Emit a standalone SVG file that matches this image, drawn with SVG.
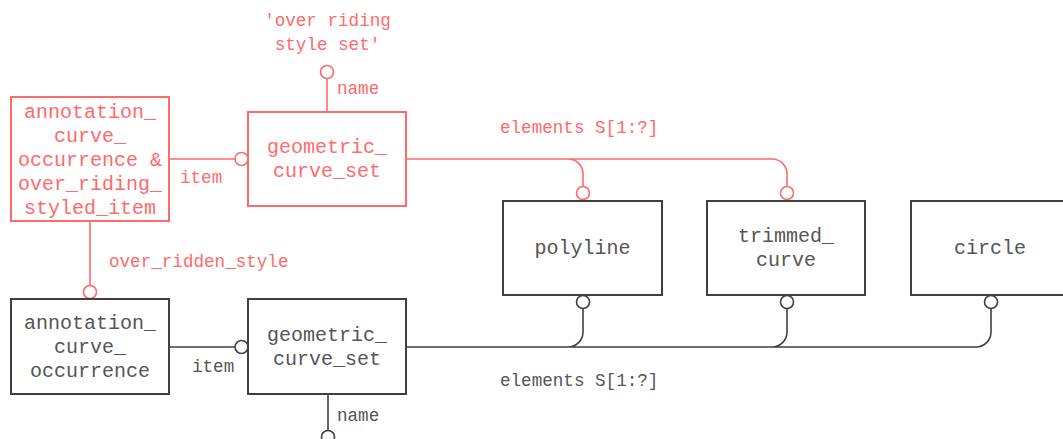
<svg xmlns="http://www.w3.org/2000/svg" width="1063" height="439" viewBox="0 0 1063 439">
<style>
.box{fill:#fff;stroke-width:2}
.k{stroke:#404040}
.r{stroke:#ff6a6a}
.ln{fill:none;stroke-width:1.6}
.c{fill:#fff;stroke-width:1.6}
text{font-family:"Liberation Mono","Courier New",monospace}
.nt{font-size:20px;text-anchor:middle}
.lb{font-size:17.6px}
.tk{fill:#555}
.tr{fill:#ff6a6a}
</style>
<rect width="1063" height="439" fill="#fff"/>
<g id="connectors">
  <path class="ln r" d="M327 112 V78.5"/>
  <circle class="c r" cx="327" cy="72" r="6.5"/>
  <path class="ln r" d="M169 159 H235"/>
  <circle class="c r" cx="241.5" cy="159" r="6.5"/>
  <path class="ln r" d="M406 159 H568 A15 15 0 0 1 583 174 V186.5 M568 159 H772 A15 15 0 0 1 787 174 V186.5"/>
  <circle class="c r" cx="583" cy="193" r="6.5"/>
  <circle class="c r" cx="787" cy="193" r="6.5"/>
  <path class="ln r" d="M90 221 V285.5"/>
  <circle class="c r" cx="90" cy="292" r="6.5"/>
  <path class="ln k" d="M169 347 H235"/>
  <circle class="c k" cx="241.5" cy="347" r="6.5"/>
  <path class="ln k" d="M328 394 V430.5"/>
  <circle class="c k" cx="328" cy="437" r="6.5"/>
  <path class="ln k" d="M406 347 H976 A15 15 0 0 0 991 332 V308.5 M568 347 A15 15 0 0 0 583 332 V308.5 M772 347 A15 15 0 0 0 787 332 V308.5"/>
  <circle class="c k" cx="583" cy="302" r="6.5"/>
  <circle class="c k" cx="787" cy="302" r="6.5"/>
  <circle class="c k" cx="991" cy="302" r="6.5"/>
  <text class="lb tr" x="327.5" y="26" text-anchor="middle">'over riding</text>
  <text class="lb tr" x="327.5" y="50" text-anchor="middle">style set'</text>
  <text class="lb tr" x="337" y="94">name</text>
  <text class="lb tr" x="180" y="183">item</text>
  <text class="lb tr" x="500" y="133">elements S[1:?]</text>
  <text class="lb tr" x="109" y="267">over_ridden_style</text>
  <text class="lb tk" x="192" y="372">item</text>
  <text class="lb tk" x="337" y="421">name</text>
  <text class="lb tk" x="500" y="386">elements S[1:?]</text>
</g>
<g id="node-aco-orsi">
  <rect class="box r" x="11" y="97" width="158" height="124"/>
  <text class="nt tr" x="90" y="118">annotation_</text>
  <text class="nt tr" x="90" y="142">curve_</text>
  <text class="nt tr" x="90" y="166">occurrence &amp;</text>
  <text class="nt tr" x="90" y="190">over_riding_</text>
  <text class="nt tr" x="90" y="214">styled_item</text>
</g>
<g id="node-gcs-red">
  <rect class="box r" x="248" y="112" width="158" height="94"/>
  <text class="nt tr" x="327" y="153">geometric_</text>
  <text class="nt tr" x="327" y="177">curve_set</text>
</g>
<g id="node-polyline">
  <rect class="box k" x="503" y="201" width="159" height="94"/>
  <text class="nt tk" x="582.5" y="254">polyline</text>
</g>
<g id="node-trimmed-curve">
  <rect class="box k" x="707" y="201" width="158" height="94"/>
  <text class="nt tk" x="786" y="242">trimmed_</text>
  <text class="nt tk" x="786" y="266">curve</text>
</g>
<g id="node-circle">
  <rect class="box k" x="911" y="201" width="158" height="94"/>
  <text class="nt tk" x="990" y="254">circle</text>
</g>
<g id="node-aco">
  <rect class="box k" x="11" y="299" width="158" height="95"/>
  <text class="nt tk" x="90" y="329">annotation_</text>
  <text class="nt tk" x="90" y="353">curve_</text>
  <text class="nt tk" x="90" y="377">occurrence</text>
</g>
<g id="node-gcs">
  <rect class="box k" x="248" y="299" width="158" height="95"/>
  <text class="nt tk" x="327" y="341">geometric_</text>
  <text class="nt tk" x="327" y="365">curve_set</text>
</g>
</svg>
